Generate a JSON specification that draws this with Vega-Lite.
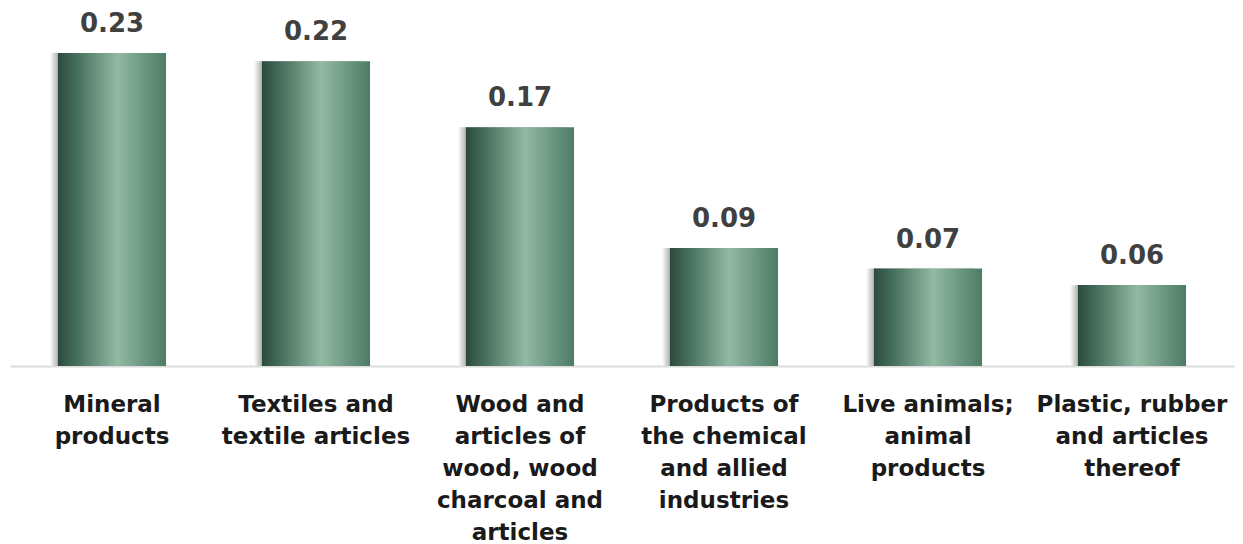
{
  "$schema": "https://vega.github.io/schema/vega-lite/v6.json",
  "width": 1224,
  "height": 366,
  "padding": {"left": 10, "top": 0, "right": 9, "bottom": 0},
  "background": "white",
  "config": {"view": {"stroke": null}},
  "data": {
    "values": [
      {"cat": "Mineral|products", "value": 0.228},
      {"cat": "Textiles and|textile articles", "value": 0.222},
      {"cat": "Wood and|articles of|wood, wood|charcoal and|articles", "value": 0.174},
      {"cat": "Products of|the chemical|and allied|industries", "value": 0.086},
      {"cat": "Live animals;|animal|products", "value": 0.071},
      {"cat": "Plastic, rubber|and articles|thereof", "value": 0.059}
    ]
  },
  "encoding": {
    "x": {
      "field": "cat",
      "type": "nominal",
      "sort": null,
      "scale": {"paddingInner": 0.47, "paddingOuter": 0.235},
      "axis": {
        "title": null,
        "labelAngle": 0,
        "labelExpr": "split(datum.label, '|')",
        "labelFont": "DejaVu Sans",
        "labelFontWeight": "bold",
        "labelFontSize": 23,
        "labelColor": "#1a1a1a",
        "labelLineHeight": 32,
        "labelPadding": 27,
        "labelBaseline": "top",
        "labelLimit": 300,
        "ticks": false,
        "domainColor": "#dcdcdc",
        "domainWidth": 2
      }
    },
    "y": {
      "field": "value",
      "type": "quantitative",
      "scale": {"domain": [0, 0.2666], "nice": false},
      "axis": null
    }
  },
  "layer": [
    {
      "mark": {
        "type": "bar",
        "xOffset": -8,
        "color": {
          "gradient": "linear",
          "x1": 0, "y1": 0, "x2": 1, "y2": 0,
          "stops": [
            {"offset": 0, "color": "#ffffff"},
            {"offset": 0.075, "color": "#b0b0b0"},
            {"offset": 1, "color": "#b0b0b0"}
          ]
        }
      }
    },
    {
      "mark": {
        "type": "bar",
        "color": {
          "gradient": "linear",
          "x1": 0, "y1": 0, "x2": 1, "y2": 0,
          "stops": [
            {"offset": 0, "color": "#2c4a3b"},
            {"offset": 0.2, "color": "#4a7461"},
            {"offset": 0.55, "color": "#93b9a4"},
            {"offset": 0.8, "color": "#6a9681"},
            {"offset": 1, "color": "#4d7c65"}
          ]
        }
      }
    },
    {
      "mark": {
        "type": "text",
        "baseline": "alphabetic",
        "dy": -21,
        "font": "DejaVu Sans",
        "fontWeight": "bold",
        "fontSize": 26,
        "color": "#404040"
      },
      "encoding": {
        "text": {"field": "value", "type": "quantitative", "format": ".2f"}
      }
    }
  ]
}
